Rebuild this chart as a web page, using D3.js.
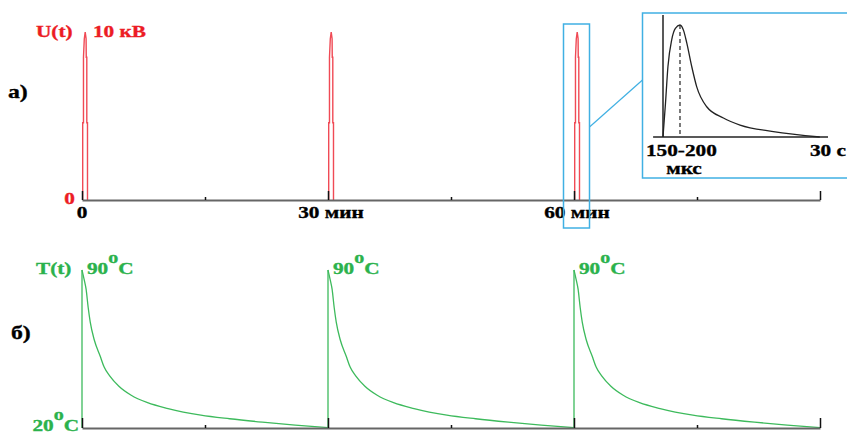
<!DOCTYPE html>
<html>
<head>
<meta charset="utf-8">
<script src="https://cdn.jsdelivr.net/npm/d3@7/dist/d3.min.js"></script>
<style>
  html, body { margin: 0; padding: 0; background: #fff; }
  svg { display: block; }
  text { font-family: "Liberation Serif", "Times New Roman", serif; font-weight: bold; font-size: 17px; stroke-width: 0.35px; }
</style>
</head>
<body>
<div id="chart"></div>
<script>
// time axis, minutes
const pulseTimes = [0, 30, 60];
const majorTicks = [0, 30, 60, 90];
const minorTicks = [15, 45, 75];
const tickLabelTimes = [0, 30, 60];
const tickLabels = ["0", "30 мин", "60 мин"];

// shape of one voltage pulse: offset (min) / kV
const pulseShapeT = [0.085, 0.085, 0.18, 0.18, 0.28, 0.39, 0.5, 0.52, 0.585, 0.585, 0.67, 0.67];
const pulseShapeU = [0, 4.6, 4.6, 8.5, 9.6, 10, 9.6, 8.5, 8.5, 4.6, 4.6, 0];

// cooling after each pulse: offset (min) / °C
const coolT = [0, 0.25, 0.5, 0.75, 1, 1.5, 2.2, 2.7, 3.4, 4.5, 6, 8, 10.5, 14.5, 18, 22, 26, 30];
const coolTemp = [90, 86, 81.5, 73.5, 67, 59, 52, 47, 43, 38.5, 34.5, 31.2, 28.6, 25.7, 24.1, 22.6, 21.3, 20.2];

// inset: single pulse, arbitrary units
const insetX = [0, 1.5, 3, 5.3, 7.5, 10.3, 12.5, 14.4, 17.4, 20.4, 26.5, 36.6, 46.7, 66.9, 95];
const insetY = [0, 0.3, 0.63, 0.87, 0.97, 1.0, 0.95, 0.84, 0.63, 0.45, 0.27, 0.17, 0.107, 0.048, 0];
const insetPeak = 10.3;

const red = "#ec1c24", redLine = "#f04a55", green = "#2bb24c", greenLine = "#3dba5c", blue = "#40b0e3";

const svg = d3.select("#chart").append("svg").attr("width", 847).attr("height", 432);

const x = d3.scaleLinear().domain([0, 90]).range([82, 820]);
const yU = d3.scaleLinear().domain([0, 10]).range([200, 32]);
const yT = d3.scaleLinear().domain([20, 90]).range([428, 270]);

function label(str, px, py, color, anchor) {
  return svg.append("text")
    .attr("transform", `translate(${px},${py}) scale(1.25,1)`)
    .attr("text-anchor", anchor || "start")
    .attr("fill", color).attr("stroke", color)
    .text(str);
}
function degLabel(num, px, py, color, anchor) {
  const t = svg.append("text")
    .attr("transform", `translate(${px},${py}) scale(1.25,1)`)
    .attr("text-anchor", anchor || "start")
    .attr("fill", color).attr("stroke", color);
  t.append("tspan").text(num);
  t.append("tspan").attr("dy", -11).attr("font-size", 16).text("o");
  t.append("tspan").attr("dy", 11).text("C");
  return t;
}

function drawAxis(yPos, majorLen) {
  const g = svg.append("g").attr("transform", `translate(0,${yPos})`);
  g.call(d3.axisTop(x).tickValues(majorTicks).tickSize(majorLen).tickSizeOuter(0).tickFormat(""));
  g.select(".domain").attr("stroke", "#666").attr("stroke-width", 2);
  g.selectAll(".tick line").attr("stroke", "#111").attr("stroke-width", 1.5);
  const m = svg.append("g").attr("transform", `translate(0,${yPos})`);
  m.call(d3.axisTop(x).tickValues(minorTicks).tickSize(3).tickFormat(""));
  m.select(".domain").remove();
  m.selectAll(".tick line").attr("stroke", "#111").attr("stroke-width", 1.5);
}

// ---- a) voltage pulses
const pulseLine = d3.line().x(d => x(d[0])).y(d => yU(d[1]));
pulseTimes.forEach(p => {
  const pts = pulseShapeT.map((t, i) => [p + t, pulseShapeU[i]]);
  svg.append("path").attr("d", pulseLine(pts))
    .attr("fill", "none").attr("stroke", redLine).attr("stroke-width", 1.4);
});
drawAxis(200, 9);

tickLabelTimes.forEach((t, i) => label(tickLabels[i], x(t) + (i ? 3 : 0), 218, "#000", "middle"));
label("U(t)", 36, 36.5, red);
label("10 кВ", 93, 36.5, red);
label("0", 75, 204, red, "end");
label("а)", 8, 98, "#000").style("font-size", "19px");

// highlight box + inset
const hp = pulseTimes[2];
svg.append("rect").attr("x", x(hp) - 10.5).attr("y", 24).attr("width", 26).attr("height", 204)
  .attr("fill", "none").attr("stroke", blue).attr("stroke-width", 1.5);
svg.append("line").attr("x1", x(hp) + 15.5).attr("y1", 127).attr("x2", 642.5).attr("y2", 80)
  .attr("stroke", blue).attr("stroke-width", 1.2);
svg.append("rect").attr("x", 642.5).attr("y", 13).attr("width", 230).attr("height", 165)
  .attr("fill", "#fff").attr("stroke", blue).attr("stroke-width", 1.5);

const ix = d3.scaleLinear().domain([0, 100]).range([663, 828]);
const iy = d3.scaleLinear().domain([0, 1]).range([137, 25]);
svg.append("line").attr("x1", ix(0)).attr("x2", ix(0)).attr("y1", 15).attr("y2", iy(0))
  .attr("stroke", "#222").attr("stroke-width", 1.5);
svg.append("line").attr("x1", ix(-6)).attr("x2", ix(100)).attr("y1", iy(0)).attr("y2", iy(0))
  .attr("stroke", "#222").attr("stroke-width", 1.5);
svg.append("line").attr("x1", ix(insetPeak)).attr("x2", ix(insetPeak)).attr("y1", iy(1)).attr("y2", iy(0))
  .attr("stroke", "#333").attr("stroke-width", 1.3).attr("stroke-dasharray", "4,3");
svg.append("path")
  .attr("d", d3.line().curve(d3.curveMonotoneX).x(d => ix(d[0])).y(d => iy(d[1]))(insetX.map((v, i) => [v, insetY[i]])))
  .attr("fill", "none").attr("stroke", "#222").attr("stroke-width", 1.3);
label("150-200", 646, 156, "#000");
label("мкс", 684, 174, "#000", "middle");
label("30 с", 810, 156, "#000");

// ---- б) temperature
const coolLine = d3.line().curve(d3.curveMonotoneX).x(d => x(d[0])).y(d => yT(d[1]));
pulseTimes.forEach(p => {
  svg.append("line").attr("x1", x(p)).attr("x2", x(p)).attr("y1", yT(20)).attr("y2", yT(90))
    .attr("stroke", greenLine).attr("stroke-width", 1.3);
  svg.append("path")
    .attr("d", coolLine(coolT.map((t, i) => [p + t, coolTemp[i]])))
    .attr("fill", "none").attr("stroke", greenLine).attr("stroke-width", 1.3);
});
drawAxis(428, 10);

label("T(t)", 36, 273.5, green);
pulseTimes.forEach(p => degLabel("90", x(p) + 5, 273.5, green));
degLabel("20", 79, 431, green, "end");
label("б)", 11, 339, "#000").style("font-size", "19px");
</script>
</body>
</html>
